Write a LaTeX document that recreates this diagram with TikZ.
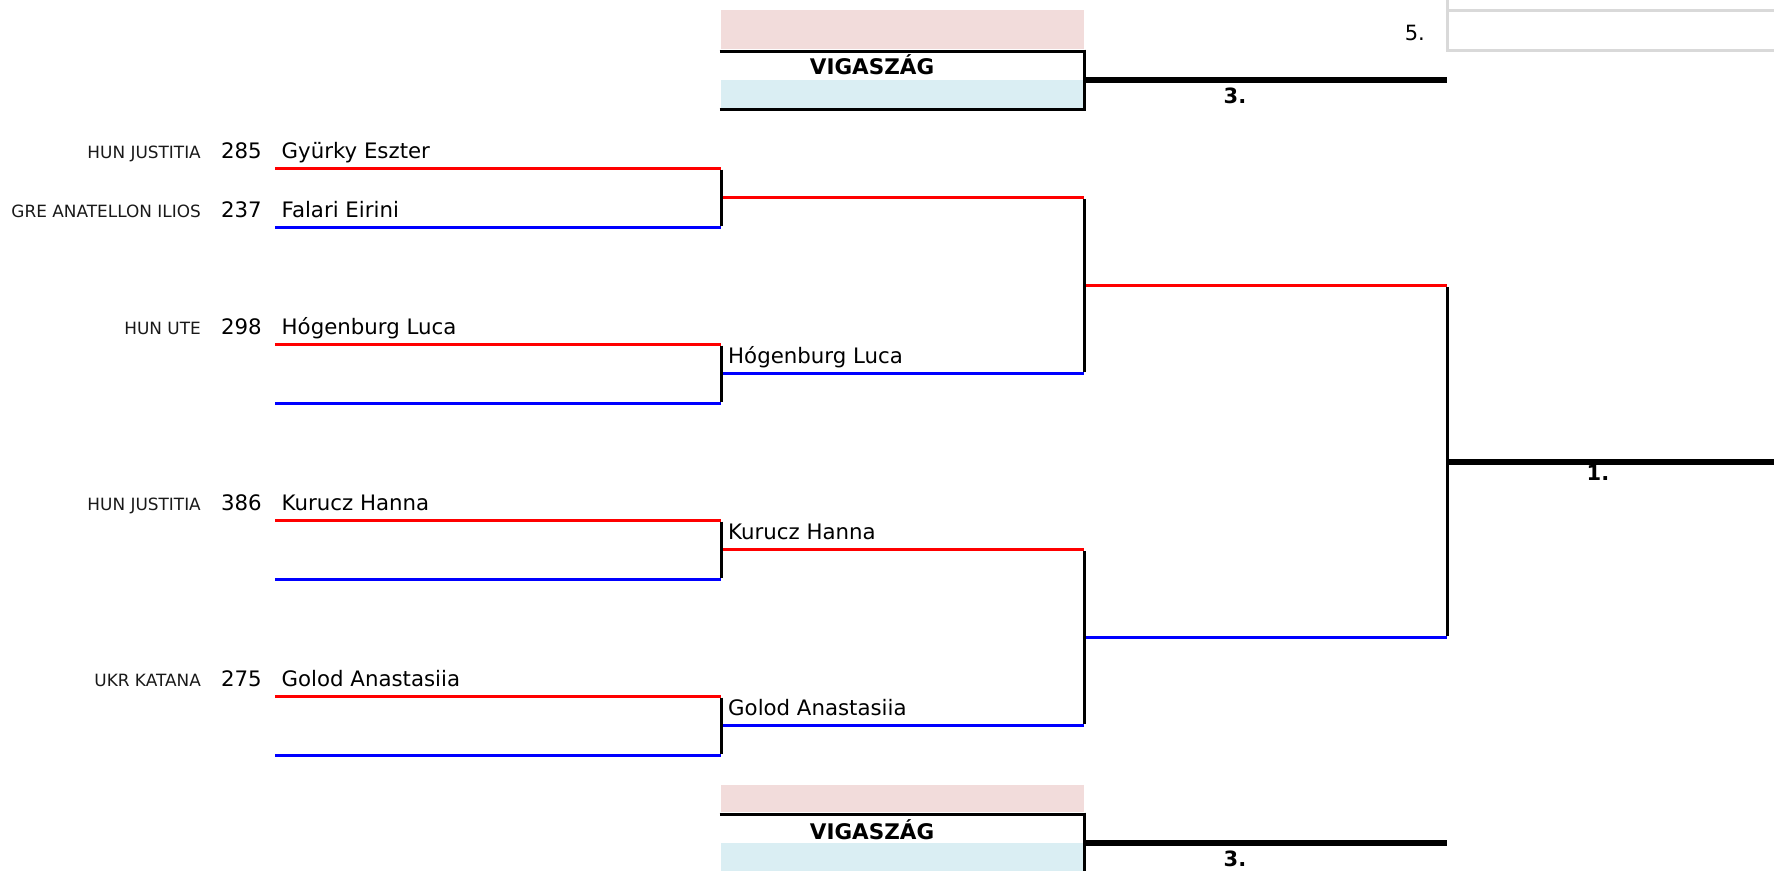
\documentclass[tikz,border=0pt]{standalone}
\usepackage{fontspec}
\setmainfont{DejaVu Sans}
\definecolor{pinkbg}{HTML}{F2DCDB}
\definecolor{bluebg}{HTML}{DAEEF3}
\definecolor{grayln}{HTML}{D9D9D9}
\definecolor{redln}{HTML}{FF0000}
\definecolor{blueln}{HTML}{0000FF}
\begin{document}
\begin{tikzpicture}[x=1pt,y=-1pt,
  redline/.style={draw=redln,line width=3pt},
  blueline/.style={draw=blueln,line width=3pt},
  joinline/.style={draw=black,line width=3pt},
  thickline/.style={draw=black,line width=6pt},
  grayline/.style={draw=grayln,line width=3pt},
  pname/.style={anchor=base west,inner sep=0pt,font=\fontsize{21.3}{25}\selectfont},
  pnum/.style={anchor=base east,inner sep=0pt,font=\fontsize{21.3}{25}\selectfont},
  pclub/.style={anchor=base east,inner sep=0pt,font=\fontsize{16.9}{20}\selectfont,text=black!90},
  place/.style={anchor=base,inner sep=0pt,font=\bfseries\fontsize{21}{24}\selectfont},
  consol/.style={anchor=base,inner sep=0pt,font=\bfseries\fontsize{21.5}{24}\selectfont},
]
\useasboundingbox (0,0) rectangle (1774,871);

% ---------- coordinates: round 1 ----------
\foreach \n/\y in {a/168,b/227,c/344,d/403,e/520,f/579,g/696,h/755}{
  \coordinate (r1\n s) at (275,\y);
  \coordinate (r1\n e) at (721,\y);
}
% round 2
\foreach \n/\y in {a/197.5,b/373.5,c/549.5,d/725.5}{
  \coordinate (r2\n s) at (721,\y);
  \coordinate (r2\n e) at (1084,\y);
}
% round 3
\foreach \n/\y in {a/285.5,b/637.5}{
  \coordinate (r3\n s) at (1084,\y);
  \coordinate (r3\n e) at (1447,\y);
}
\coordinate (fins) at (1447,461.5);
\coordinate (fine) at (1774,461.5);

% ---------- consolation boxes ----------
\fill[pinkbg] (721,10) rectangle (1084,49);
\fill[bluebg] (721,80) rectangle (1084,108);
\coordinate (vt1) at (719.5,51);
\coordinate (vt2) at (1085.5,51);
\coordinate (vt3) at (719.5,109);
\coordinate (vt4) at (1085.5,109);
\coordinate (vtr) at (1084,80);
\coordinate (vte) at (1447,80);
\draw[joinline] (vt1) -- (vt2);
\draw[joinline] (vt3) -- (vt4);
\draw[joinline] (1084,49.5) -- (1084,110.5);
\draw[thickline] (vtr) -- (vte);
\node[consol] (vigt) at (872,74.5) {VIGASZÁG};
\node[place] (thirdt) at (1235,103.5) {3.};

\fill[pinkbg] (721,785) rectangle (1084,812);
\fill[bluebg] (721,843) rectangle (1084,871);
\coordinate (vb1) at (719.5,814);
\coordinate (vb2) at (1085.5,814);
\coordinate (vbr) at (1084,843);
\coordinate (vbe) at (1447,843);
\draw[joinline] (vb1) -- (vb2);
\draw[joinline] (1084,812.5) -- (1084,871);
\draw[thickline] (vbr) -- (vbe);
\node[consol] (vigb) at (872,839.5) {VIGASZÁG};
\node[place] (thirdb) at (1235,866) {3.};

% ---------- top right grey cells ----------
\draw[grayline] (1447,0) -- (1447,51.5);
\draw[grayline] (1447,10) -- (1774,10);
\draw[grayline] (1447,50) -- (1774,50);
\node[anchor=base east,inner sep=0pt,font=\fontsize{21}{24}\selectfont] (fifth) at (1425,40) {5.};

% ---------- bracket lines ----------
\foreach \n in {a,c,e,g}{\draw[redline] (r1\n s) -- (r1\n e);}
\foreach \n in {b,d,f,h}{\draw[blueline] (r1\n s) -- (r1\n e);}
\draw[redline] (r2as) -- (r2ae);
\draw[blueline] (r2bs) -- (r2be);
\draw[redline] (r2cs) -- (r2ce);
\draw[blueline] (r2ds) -- (r2de);
\draw[redline] (r3as) -- (r3ae);
\draw[blueline] (r3bs) -- (r3be);
\draw[thickline] (fins) -- (fine);

\draw[joinline] ([yshift=-1.5pt]r1ae) -- ([yshift=1.5pt]r1be);
\draw[joinline] ([yshift=-1.5pt]r1ce) -- ([yshift=1.5pt]r1de);
\draw[joinline] ([yshift=-1.5pt]r1ee) -- ([yshift=1.5pt]r1fe);
\draw[joinline] ([yshift=-1.5pt]r1ge) -- ([yshift=1.5pt]r1he);
\draw[joinline] ([yshift=-1.5pt]r2ae) -- ([yshift=1.5pt]r2be);
\draw[joinline] ([yshift=-1.5pt]r2ce) -- ([yshift=1.5pt]r2de);
\draw[joinline] ([yshift=-1.5pt]r3ae) -- ([yshift=1.5pt]r3be);

% ---------- entries ----------
\node[pclub] (ca) at (201,158.5) {HUN JUSTITIA};
\node[pnum]  (na) at (262,158.5) {285};
\node[pname] (pa) at (281.5,158.5) {Gyürky Eszter};
\node[pclub] (cb) at (201,217.5) {GRE ANATELLON ILIOS};
\node[pnum]  (nb) at (262,217.5) {237};
\node[pname] (pb) at (281.5,217.5) {Falari Eirini};
\node[pclub] (cc) at (201,334.5) {HUN UTE};
\node[pnum]  (nc) at (262,334.5) {298};
\node[pname] (pc) at (281.5,334.5) {Hógenburg Luca};
\node[pclub] (ce) at (201,510.5) {HUN JUSTITIA};
\node[pnum]  (ne) at (262,510.5) {386};
\node[pname] (pe) at (281.5,510.5) {Kurucz Hanna};
\node[pclub] (cg) at (201,686.5) {UKR KATANA};
\node[pnum]  (ng) at (262,686.5) {275};
\node[pname] (pg) at (281.5,686.5) {Golod Anastasiia};

\node[pname] (q2b) at (728,363.5) {Hógenburg Luca};
\node[pname] (q2c) at (728,539.5) {Kurucz Hanna};
\node[pname] (q2d) at (728,715.5) {Golod Anastasiia};

\node[place] (first) at (1598,480) {1.};
\end{tikzpicture}
\end{document}
